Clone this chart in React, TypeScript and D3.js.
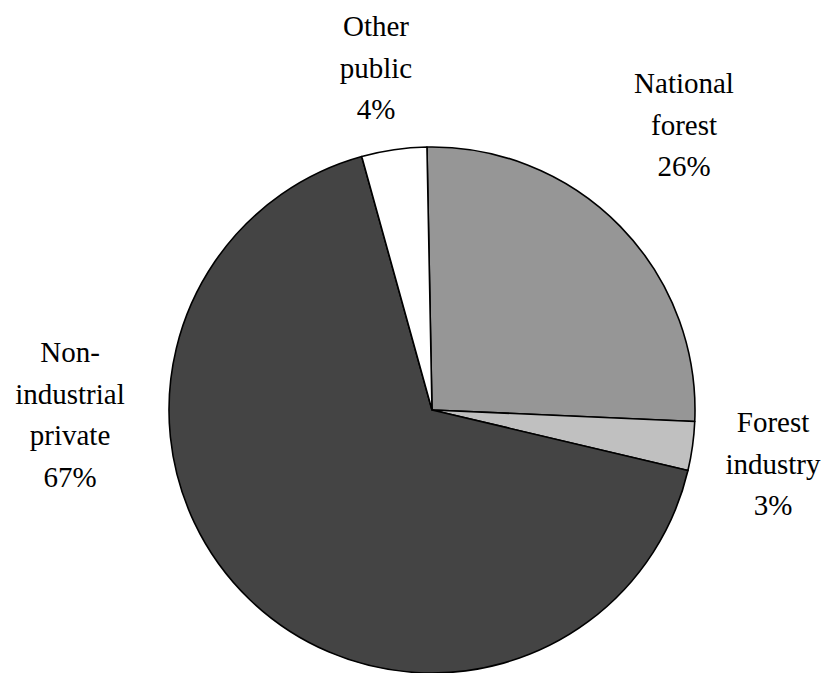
import React from "react";
import * as d3 from "d3";

// Ownership categories and their shares (%)
const categories: string[] = ["National forest", "Forest industry", "Non-industrial private", "Other public"];
const shares: number[] = [26, 3, 67, 4];
const labelLines: string[][] = [
  ["National", "forest", "26%"],
  ["Forest", "industry", "3%"],
  ["Non-", "industrial", "private", "67%"],
  ["Other", "public", "4%"],
];
const fills: string[] = ["#969696", "#c0c0c0", "#444444", "#ffffff"];

const WIDTH = 831;
const HEIGHT = 673;
const CX = 432;
const CY = 410;
const RADIUS = 263;
const START = (-1.1 * Math.PI) / 180;
const FONT_SIZE = 29;
const LINE_GAP = 41.5;
const FONT = '"Liberation Serif", Tinos, "Times New Roman", "Nimbus Roman", "DejaVu Serif", serif';

// Label anchor points (centre x, first baseline y)
const labelPos: [number, number][] = [
  [684, 93],
  [773, 432],
  [70, 362],
  [376, 36],
];

export default function App() {
  const data = categories.map((c, i) => ({ name: c, value: shares[i], i }));
  const pie = d3
    .pie<{ name: string; value: number; i: number }>()
    .value((d) => d.value)
    .sort(null)
    .startAngle(START)
    .endAngle(START + 2 * Math.PI);
  const arcs = pie(data);
  const arc = d3
    .arc<d3.PieArcDatum<{ name: string; value: number; i: number }>>()
    .innerRadius(0)
    .outerRadius(RADIUS);

  return (
    <svg
      width={WIDTH}
      height={HEIGHT}
      style={{ position: "absolute", left: 0, top: 0, background: "#fff" }}
    >
      <g transform={`translate(${CX},${CY})`}>
        {arcs.map((a) => (
          <path
            key={a.data.name}
            d={arc(a) || ""}
            fill={fills[a.data.i]}
            stroke="#000"
            strokeWidth={1.6}
            strokeLinejoin="round"
          />
        ))}
      </g>
      {labelLines.map((lines, i) => (
        <text
          key={categories[i]}
          x={labelPos[i][0]}
          y={labelPos[i][1]}
          textAnchor="middle"
          style={{ fontFamily: FONT, fontSize: FONT_SIZE }}
          fill="#000"
        >
          {lines.map((ln, j) => (
            <tspan key={j} x={labelPos[i][0]} y={labelPos[i][1] + j * LINE_GAP}>
              {ln}
            </tspan>
          ))}
        </text>
      ))}
    </svg>
  );
}
